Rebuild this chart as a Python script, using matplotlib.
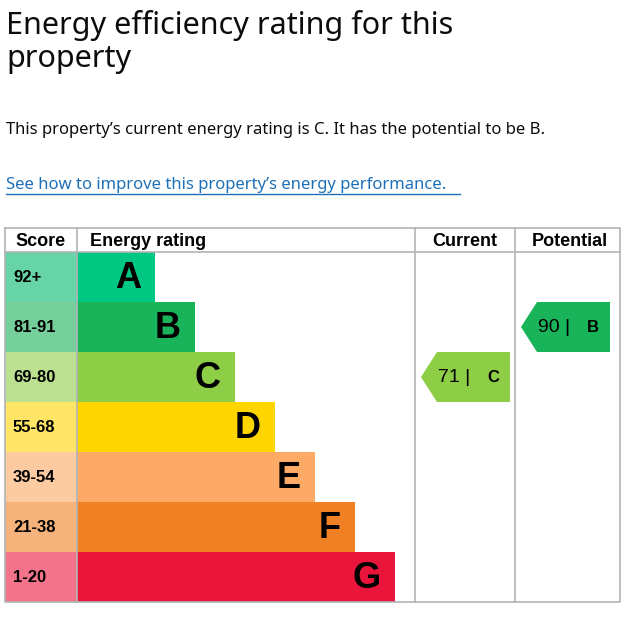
import matplotlib.pyplot as plt
from matplotlib.patches import Polygon, Rectangle

# ---------------------------------------------------------------------------
# Data
# ---------------------------------------------------------------------------
BANDS = ["A", "B", "C", "D", "E", "F", "G"]
SCORES = ["92+", "81-91", "69-80", "55-68", "39-54", "21-38", "1-20"]
BAR_COLORS = ["#00c781", "#19b459", "#8dce46", "#ffd500", "#fcaa65", "#ef8023", "#e9153b"]
SCORE_COLORS = ["#66d4a6", "#75cf9a", "#bbe190", "#ffe566", "#fdcba2", "#f5b37b", "#f2738a"]
BAR_ENDS = [155, 195, 235, 275, 315, 355, 395]   # right edge in px

CURRENT_SCORE, CURRENT_BAND = 71, "C"
POTENTIAL_SCORE, POTENTIAL_BAND = 90, "B"

W, H = 627, 629
TOP, HEAD_H, ROW_H = 228, 24, 50
X0, X_SCORE, X_CUR, X_POT, X1 = 5, 77, 415, 515, 620
GRID = "#b1b4b6"

fig = plt.figure(figsize=(W / 100, H / 100), dpi=100)
ax = fig.add_axes([0, 0, 1, 1])
ax.set_xlim(0, W)
ax.set_ylim(H, 0)
ax.axis("off")

# ---- heading and text ------------------------------------------------------
ax.text(6, 10, "Energy efficiency rating for this\nproperty", fontsize=22,
        fontweight="bold", family="Noto Sans", va="top", linespacing=1.15,
        color="#0b0c0c")
ax.text(6, 130, "This property\u2019s current energy rating is C. It has the potential to be B.",
        fontsize=12, family="Noto Sans", va="center", color="#0b0c0c")
ax.text(6, 185, "See how to improve this property\u2019s energy performance.",
        fontsize=12, family="Noto Sans", va="center", color="#1d70b8")
ax.plot([6, 460], [194, 194], color="#1d70b8", lw=1)

# ---- table -----------------------------------------------------------------
row_top = [TOP + HEAD_H + i * ROW_H for i in range(len(BANDS))]
bottom = row_top[-1] + ROW_H

ax.barh([t + ROW_H / 2 for t in row_top], [X_SCORE - X0] * len(BANDS),
        left=X0, height=ROW_H, color=SCORE_COLORS)
ax.barh([t + ROW_H / 2 for t in row_top], [e - X_SCORE for e in BAR_ENDS],
        left=X_SCORE, height=ROW_H, color=BAR_COLORS)

for t, band, score, end in zip(row_top, BANDS, SCORES, BAR_ENDS):
    ax.text(13, t + ROW_H / 2, score, fontsize=12, fontweight="bold",
            family="Liberation Sans", va="center", ha="left")
    ax.text(end - 14, t + ROW_H / 2 + 2, band, fontsize=26, fontweight="bold",
            family="Liberation Sans", va="center", ha="right")

# grid lines
lw = 1.2
ax.plot([X0, X1, X1, X0, X0], [TOP, TOP, bottom, bottom, TOP], color=GRID, lw=lw)
ax.plot([X0, X1], [TOP + HEAD_H] * 2, color=GRID, lw=lw)
for x in (X_SCORE, X_CUR, X_POT):
    ax.plot([x, x], [TOP, bottom], color=GRID, lw=lw)

hy = TOP + HEAD_H / 2 + 1
hk = dict(fontsize=13, fontweight="bold", family="Liberation Sans", va="center")
ax.text(41, hy, "Score", ha="center", **hk)
ax.text(90, hy, "Energy rating", ha="left", **hk)
ax.text(465, hy, "Current", ha="center", **hk)
ax.text(570, hy, "Potential", ha="center", **hk)


def arrow(x_left, score, band):
    i = BANDS.index(band)
    t = row_top[i]
    pts = [(x_left, t + ROW_H / 2), (x_left + 16, t), (x_left + 89, t),
           (x_left + 89, t + ROW_H), (x_left + 16, t + ROW_H)]
    ax.add_patch(Polygon(pts, closed=True, color=BAR_COLORS[i], lw=0))
    ax.text(x_left + 17, t + ROW_H / 2, f"{score} |", fontsize=14,
            family="Liberation Sans", va="center", ha="left")
    ax.text(x_left + 72, t + ROW_H / 2 + 1, band, fontsize=12, fontweight="bold",
            family="Liberation Sans", va="center", ha="center")


arrow(421, CURRENT_SCORE, CURRENT_BAND)
arrow(521, POTENTIAL_SCORE, POTENTIAL_BAND)

fig.savefig("out.png", dpi=100)
